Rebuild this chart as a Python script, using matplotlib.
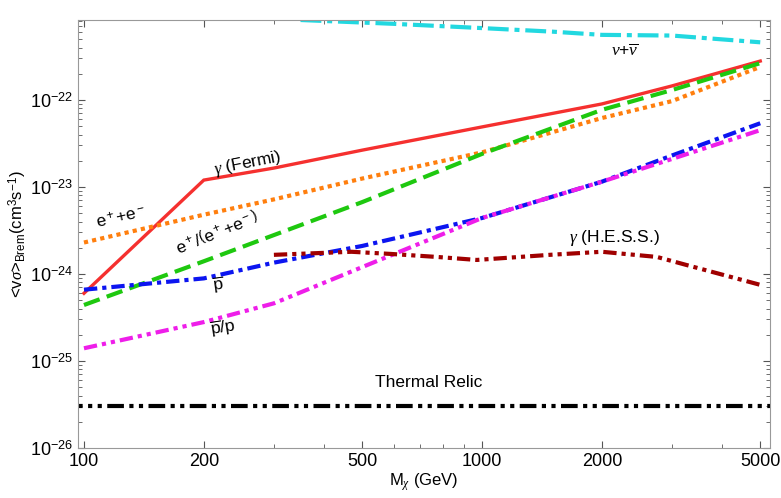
import numpy as np
import matplotlib
matplotlib.use("Agg")
import matplotlib.pyplot as plt
from matplotlib.ticker import FixedLocator, NullFormatter, FixedFormatter

plt.rcParams["font.family"] = ["Liberation Sans", "DejaVu Sans"]
plt.rcParams["mathtext.fontset"] = "custom"
plt.rcParams["mathtext.rm"] = "Liberation Sans"
plt.rcParams["mathtext.sf"] = "Liberation Sans"
plt.rcParams["mathtext.it"] = "Liberation Serif:italic"

# masses (GeV) and <v sigma>_Brem limits (cm^3 s^-1)
mass = [100, 200, 300, 500, 1000, 2000, 3000, 5000]
gamma_fermi = [6.0e-25, 1.2e-23, 1.65e-23, 2.65e-23, 4.9e-23, 9.0e-23, 1.45e-22, 2.8e-22]
epem = [2.3e-24, 4.8e-24, 7.2e-24, 1.25e-23, 2.5e-23, 6.2e-23, 9.7e-23, 2.4e-22]
pos_frac = [4.4e-25, 1.4e-24, 2.8e-24, 6.7e-24, 2.4e-23, 7.7e-23, 1.3e-22, 2.65e-22]
pbar = [6.6e-25, 8.9e-25, 1.35e-24, 2.1e-24, 4.4e-24, 1.15e-23, 2.3e-23, 5.4e-23]
pbar_p = [1.4e-25, 2.8e-25, 4.6e-25, 1.2e-24, 4.4e-24, 1.15e-23, 2.1e-23, 4.5e-23]

hess_mass = [300, 470, 590, 770, 970, 1480, 2000, 2750, 3260, 5000]
hess = [1.66e-24, 1.8e-24, 1.7e-24, 1.57e-24, 1.45e-24, 1.66e-24, 1.8e-24, 1.57e-24, 1.27e-24, 7.5e-25]

nu_mass = [350, 600, 1000, 1500, 2000, 3000, 5000]
nu = [8.3e-22, 7.5e-22, 6.7e-22, 6.1e-22, 5.6e-22, 5.5e-22, 4.6e-22]

thermal_mass = [90, 6000]
thermal = [3e-26, 3e-26]

xticks = [100, 200, 500, 1000, 2000, 5000]
xtick_labels = ["100", "200", "500", "1000", "2000", "5000"]
yticks = [1e-26, 1e-25, 1e-24, 1e-23, 1e-22]
ytick_labels = [r"10$^{-26}$", r"10$^{-25}$", r"10$^{-24}$", r"10$^{-23}$", r"10$^{-22}$"]

fig = plt.figure(figsize=(7.81, 4.98), dpi=100)
ax = fig.add_axes([78 / 781, 50 / 498, 692 / 781, 428 / 498])

ax.plot(mass, gamma_fermi, color="#f5302f", lw=2.4, solid_joinstyle="miter")
ax.plot(mass, epem, color="#ff7f0e", lw=3, dashes=(1, 1))
ax.plot(mass, pos_frac, color="#1ec80f", lw=3, dashes=(4, 1.8))
ax.plot(mass, pbar, color="#0c15f0", lw=3, dashes=(3.2, 1.2, 1, 1.2))
ax.plot(mass, pbar_p, color="#ee1ee9", lw=3, dashes=(3.2, 1.2, 1, 1.2, 1, 1.2))
ax.plot(hess_mass, hess, color="#a00000", lw=3, dashes=(3.2, 1.2, 1, 1.2, 1, 1.2))
ax.plot(nu_mass, nu, color="#22d8e0", lw=3, dashes=(5, 1.4, 1.2, 1.4))
ax.plot(thermal_mass, thermal, color="black", lw=3, dashes=(4, 1.3, 1, 1.3, 1, 1.3))

ax.set_xscale("log")
ax.set_yscale("log")
ax.set_xlim(96.6, 5290)
ax.set_ylim(1e-26, 8.3e-22)

ax.xaxis.set_major_locator(FixedLocator(xticks))
ax.xaxis.set_major_formatter(FixedFormatter(xtick_labels))
ax.xaxis.set_minor_locator(FixedLocator([300, 400, 600, 700, 800, 900, 3000, 4000]))
ax.xaxis.set_minor_formatter(NullFormatter())
ax.yaxis.set_major_locator(FixedLocator(yticks))
ax.yaxis.set_major_formatter(FixedFormatter(ytick_labels))
yminor = [m * d for d in [1e-26, 1e-25, 1e-24, 1e-23, 1e-22] for m in range(2, 10)]
ax.yaxis.set_minor_locator(FixedLocator([v for v in yminor if v < 8.3e-22]))
ax.yaxis.set_minor_formatter(NullFormatter())

for s in ax.spines.values():
    s.set_color("#999999")
ax.tick_params(which="both", direction="in", top=True, right=True, colors="#555555",
               labelcolor="black", labelsize=13)
ax.tick_params(which="major", length=5, width=0.8)
ax.tick_params(which="minor", length=3, width=0.6)

ax.set_xlabel(r"M$_\chi$ (GeV)", fontsize=12, labelpad=1)
ax.set_ylabel(r"<v$\sigma$>$_{\rm Brem}$(cm$^3$s$^{-1}$)", fontsize=12, labelpad=1)

fs = 12.5
ax.text(258, 1.85e-23, r"$\gamma$ (Fermi)", fontsize=fs, rotation=11, ha="center", va="center")
ax.text(124, 4.5e-24, r"e$^+$+e$^-$", fontsize=fs, rotation=13, ha="center", va="center")
ax.text(215, 3.0e-24, r"e$^+$/$\left(\mathrm{e}^+\mathrm{+e}^-\right)$", fontsize=fs, rotation=22,
        ha="center", va="center")
ax.text(217, 7.6e-25, r"$\overline{\mathrm{p}}$", fontsize=fs, rotation=8, ha="center", va="center")
ax.text(223, 2.4e-25, r"$\overline{\mathrm{p}}$/p", fontsize=fs, rotation=9, ha="center", va="center")
ax.text(2148, 2.6e-24, r"$\gamma$ (H.E.S.S.)", fontsize=fs, ha="center", va="center")
ax.text(2287, 3.65e-22, r"$\nu$+$\overline{\nu}$", fontsize=fs, ha="center", va="center")
ax.text(736, 5.7e-26, "Thermal Relic", fontsize=fs, ha="center", va="center")

fig.savefig("out.png", dpi=100)
